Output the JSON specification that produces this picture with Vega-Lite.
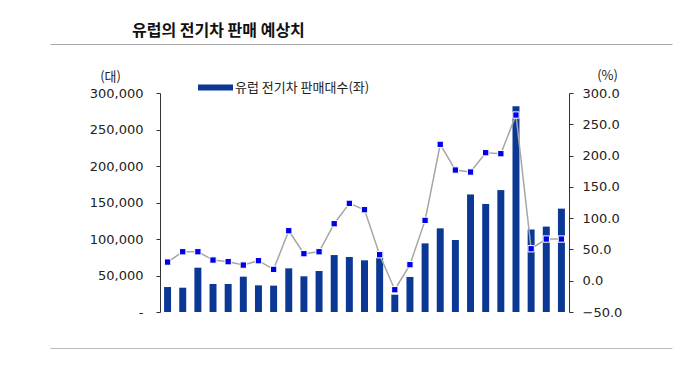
{
  "$schema": "https://vega.github.io/schema/vega-lite/v6.json",
  "autosize": "none",
  "width": 622,
  "height": 304,
  "padding": {"left": 50, "top": 44, "right": 8, "bottom": 36},
  "background": "#ffffff",
  "config": {"view": {"stroke": null}},
  "title": {
    "text": "유럽의 전기차 판매 예상치",
    "anchor": "start",
    "frame": "group",
    "dx": 82,
    "offset": 5,
    "font": "Noto Sans CJK KR",
    "fontSize": 16,
    "fontWeight": "bold",
    "color": "#111111"
  },
  "data": {
    "values": [
      {"m": "19.01", "units": 34200, "growth": 29.8},
      {"m": "19.02", "units": 33300, "growth": 46.3},
      {"m": "19.03", "units": 60700, "growth": 46.3},
      {"m": "19.04", "units": 38400, "growth": 33.0},
      {"m": "19.05", "units": 38400, "growth": 30.4},
      {"m": "19.06", "units": 48400, "growth": 25.0},
      {"m": "19.07", "units": 36500, "growth": 32.0},
      {"m": "19.08", "units": 36100, "growth": 18.1},
      {"m": "19.09", "units": 59800, "growth": 79.9},
      {"m": "19.10", "units": 48900, "growth": 43.2},
      {"m": "19.11", "units": 56200, "growth": 46.3},
      {"m": "19.12", "units": 78000, "growth": 91.1},
      {"m": "20.01", "units": 75300, "growth": 123.6},
      {"m": "20.02", "units": 70800, "growth": 113.5},
      {"m": "20.03", "units": 83500, "growth": 41.6},
      {"m": "20.04", "units": 23700, "growth": -14.4},
      {"m": "20.05", "units": 48000, "growth": 25.6},
      {"m": "20.06", "units": 94000, "growth": 96.4},
      {"m": "20.07", "units": 114600, "growth": 217.9},
      {"m": "20.08", "units": 98600, "growth": 176.9},
      {"m": "20.09", "units": 161000, "growth": 173.7},
      {"m": "20.10", "units": 148000, "growth": 204.6},
      {"m": "20.11", "units": 167000, "growth": 203.0},
      {"m": "20.12", "units": 281700, "growth": 264.8},
      {"m": "21.01", "units": 113000, "growth": 51.1},
      {"m": "21.02", "units": 117000, "growth": 66.6},
      {"m": "21.03", "units": 141600, "growth": 66.6}
    ]
  },
  "layer": [
    {
      "mark": {"type": "bar"},
      "encoding": {
        "x": {
          "field": "m",
          "type": "ordinal",
          "sort": null,
          "scale": {
            "domain": ["18.06", "18.07", "18.08", "18.09", "18.10", "18.11", "18.12",
                       "19.01", "19.02", "19.03", "19.04", "19.05", "19.06", "19.07", "19.08", "19.09", "19.10", "19.11", "19.12",
                       "20.01", "20.02", "20.03", "20.04", "20.05", "20.06", "20.07", "20.08", "20.09", "20.10", "20.11", "20.12",
                       "21.01", "21.02", "21.03", "21.04", "21.05", "21.06", "21.07", "21.08", "21.09"],
            "range": [0, 622],
            "paddingInner": 0.54,
            "paddingOuter": 0.8005,
            "align": 0.332
          },
          "axis": {
            "orient": "bottom",
            "values": ["19.01", "19.06", "19.11", "20.04", "20.09", "21.02"],
            "offset": -36,
            "labelAngle": 0,
            "labelFont": "DejaVu Sans",
            "labelFontSize": 13,
            "labelColor": "#222222",
            "labelPadding": 6,
            "tickBand": "extent",
            "tickSize": 4,
            "tickColor": "#333333",
            "domainColor": "#333333",
            "domainDash": [409, 213],
            "domainDashOffset": 512,
            "grid": false,
            "title": "자료: EV-Sales,유진투자증권",
            "titleFont": "Noto Sans CJK KR",
            "titleFontSize": 10,
            "titleFontWeight": "normal",
            "titleColor": "#111111",
            "titleAnchor": "start",
            "titleAlign": "left",
            "titleBaseline": "middle",
            "titleX": 0,
            "titleY": 48
          }
        },
        "y": {
          "field": "units",
          "type": "quantitative",
          "scale": {"domain": [0, 300000], "range": [268, 49], "nice": false, "zero": false},
          "axis": {
            "orient": "left",
            "offset": -110,
            "values": [0, 50000, 100000, 150000, 200000, 250000, 300000],
            "labelExpr": "datum.value == 0 ? '-' : format(datum.value, ',')",
            "labelFont": "DejaVu Sans",
            "labelFontSize": 13,
            "labelColor": "#222222",
            "labelPadding": 13,
            "tickSize": 4,
            "tickColor": "#333333",
            "domainColor": "#333333",
            "grid": false,
            "title": "(대)",
            "titleFont": "Noto Sans CJK KR",
            "titleFontSize": 13,
            "titleFontWeight": "normal",
            "titleColor": "#222222",
            "titleAngle": 0,
            "titleAlign": "center",
            "titleBaseline": "middle",
            "titleX": -50,
            "titleY": 32
          }
        },
        "color": {
          "datum": "유럽 전기차 판매대수(좌)",
          "type": "nominal",
          "scale": {"range": ["#0b3894"]},
          "legend": {
            "orient": "none",
            "legendX": 148,
            "legendY": 26,
            "title": null,
            "padding": 0,
            "symbolType": "M-1,-0.17H1V0.17H-1Z",
            "symbolSize": 1225,
            "symbolStrokeWidth": 0,
            "labelFont": "Noto Sans CJK KR",
            "labelFontSize": 13,
            "labelColor": "#222222",
            "labelOffset": 2
          }
        }
      }
    },
    {
      "mark": {"type": "line", "color": "#a6a6a6", "strokeWidth": 1.5},
      "encoding": {
        "x": {"field": "m", "type": "ordinal", "sort": null, "axis": null},
        "y": {
          "field": "growth",
          "type": "quantitative",
          "scale": {"domain": [-107.53, 378.31], "range": [304, 0], "nice": false, "zero": false},
          "axis": {
            "orient": "right",
            "offset": -103,
            "values": [-107.53, -50, 0, 50, 100, 150, 200, 250, 300, 378.31],
            "labelExpr": "datum.value > 300 || datum.value < -50 ? '' : format(datum.value, '.1f')",
            "labelFont": "DejaVu Sans",
            "labelFontSize": 13,
            "labelColor": "#222222",
            "labelPadding": 9,
            "tickSize": 4,
            "tickColor": "#333333",
            "tickOpacity": {"condition": {"test": "datum.value > 300 || datum.value < -50", "value": 0}, "value": 1},
            "domainColor": "#333333",
            "domainDash": [219, 85],
            "domainDashOffset": 268,
            "grid": true,
            "gridWidth": 1,
            "gridColor": {"condition": {"test": "datum.value > 300", "value": "#a9a9a9"}, "value": "#bdbdbd"},
            "gridOpacity": {"condition": {"test": "datum.value > 300 || datum.value < -50", "value": 1}, "value": 0},
            "title": "(%)",
            "titleFont": "Noto Sans CJK KR",
            "titleFontSize": 13,
            "titleFontWeight": "normal",
            "titleColor": "#222222",
            "titleAngle": 0,
            "titleAlign": "center",
            "titleBaseline": "middle",
            "titleX": 38,
            "titleY": 31
          }
        }
      }
    },
    {
      "mark": {"type": "point", "shape": "square", "filled": true, "size": 40, "color": "#0000e6", "stroke": "#ffffff", "strokeWidth": 1, "opacity": 1},
      "encoding": {
        "x": {"field": "m", "type": "ordinal", "sort": null, "axis": null},
        "y": {"field": "growth", "type": "quantitative", "scale": {"domain": [-107.53, 378.31], "range": [304, 0], "nice": false, "zero": false}, "axis": null}
      }
    }
  ],
  "resolve": {"scale": {"y": "independent"}}
}
